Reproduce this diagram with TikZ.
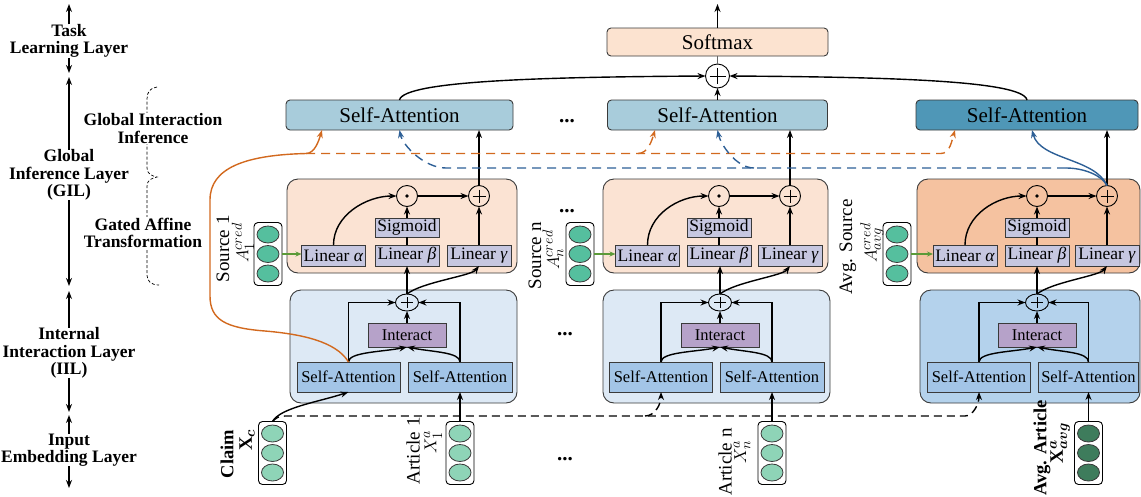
\documentclass[tikz,border=0pt]{standalone}
\usepackage{fontspec}
\setmainfont{Liberation Serif}
\usepackage{amsmath,bm}
\usetikzlibrary{arrows.meta,shapes.geometric,calc}

\definecolor{saTop}{HTML}{A8CCDB}
\definecolor{saTopDark}{HTML}{4F97B7}
\definecolor{softC}{HTML}{FCE3D0}
\definecolor{gatLight}{HTML}{FBE3D3}
\definecolor{gatDark}{HTML}{F5C2A0}
\definecolor{linC}{HTML}{C6C7E0}
\definecolor{iilLight}{HTML}{DDE9F5}
\definecolor{iilDark}{HTML}{B4D2EC}
\definecolor{saIn}{HTML}{A3C5E7}
\definecolor{interC}{HTML}{B6A2C9}
\definecolor{vecSrc}{HTML}{55BF9E}
\definecolor{vecIn}{HTML}{8ED4B7}
\definecolor{vecAvg}{HTML}{3E7C5C}
\definecolor{oraC}{HTML}{D2691E}
\definecolor{bluC}{HTML}{2D5F96}
\definecolor{grnC}{HTML}{5B9A38}
\definecolor{edgeC}{HTML}{3A3A3A}

\begin{document}
\begin{tikzpicture}[x=1pt,y=-1pt,
  every node/.style={inner sep=0pt,outer sep=0pt},
  tip/.style={-{Stealth[length=8pt,width=6pt]}},
  arr/.style={tip,line width=1.4pt},
  layerlbl/.style={font=\fontsize{17.5}{17.5}\selectfont\bfseries,align=center},
  sidelbl/.style={layerlbl,fill=white,inner sep=1pt},
  boxedge/.style={draw=edgeC,line width=0.9pt},
  topsa/.style={boxedge,rounded corners=4pt,minimum height=30,font=\fontsize{21}{21}\selectfont},
  panel/.style={boxedge,rounded corners=11pt},
  lin/.style={boxedge,fill=linC,minimum width=64,minimum height=21,font=\fontsize{17.5}{17.5}\selectfont},
  opc/.style={circle,draw=black,line width=0.9pt,minimum size=21},
  insa/.style={boxedge,fill=saIn,minimum height=30,font=\fontsize{16.5}{16.5}\selectfont},
  vecbox/.style={draw=black,line width=0.9pt,rounded corners=4pt,fill=white,minimum width=28,minimum height=63},
  vcell/.style={ellipse,draw=edgeC,line width=0.8pt,minimum width=22,minimum height=17},
  vlbl/.style={rotate=90,font=\fontsize{19}{19}\selectfont},
  vlblb/.style={rotate=90,font=\fontsize{18.5}{18.5}\selectfont\bfseries},
  ellip/.style={anchor=base,font=\fontsize{21}{21}\selectfont\bfseries},
  bracedash/.style={dash pattern=on 3pt off 2pt,line width=0.7pt},
  blackdash/.style={dash pattern=on 8pt off 5pt},
  coldash/.style={dash pattern=on 9pt off 6pt},
]
\useasboundingbox (0,0) rectangle (1141,496);

% ---------- layer labels on the left ----------
\node[layerlbl] (tll) at (69,41) {Task\\Learning Layer};
\coordinate (tllTop) at (69,4);
\coordinate (tllBot) at (69,73);
\draw[arr] (tll.north) -- (tllTop);
\draw[arr] (tll.south) -- (tllBot);

\node[layerlbl] (gil) at (69,175) {Global\\Inference Layer\\(GIL)};
\coordinate (gilTop) at (69,77);
\coordinate (gilBot) at (69,286);
\draw[arr] (gil.north) -- (gilTop);
\draw[arr] (gil.south) -- (gilBot);

\node[layerlbl] (iil) at (69,353) {Internal\\Interaction Layer\\(IIL)};
\coordinate (iilTop) at (69,291);
\coordinate (iilBot) at (69,412);
\draw[arr] (iil.north) -- (iilTop);
\draw[arr] (iil.south) -- (iilBot);

\node[layerlbl] (iel) at (69,450) {Input\\Embedding Layer};
\coordinate (ielTop) at (69,415);
\coordinate (ielBot) at (69,488);
\draw[arr] (iel.north) -- (ielTop);
\draw[arr] (iel.south) -- (ielBot);

% dashed brace grouping the two GIL sub-steps
\draw[bracedash] (157,87) .. controls (150,88) and (147,92) .. (147,99) -- (147,168)
  .. controls (147,174) and (152,176) .. (157,177)
  .. controls (152,178) and (147,180) .. (147,186) -- (147,275)
  .. controls (147,281) and (151,285) .. (159,285);
\node[sidelbl] (gii) at (153,128.5) {Global Interaction\\Inference};
\node[sidelbl] (gatl) at (143,233) {Gated Affine\\Transformation};

% ---------- task layer ----------
\node[topsa,fill=softC,minimum width=221,minimum height=28] (sm) at (717.5,42) {Softmax};
\coordinate (out) at (717.5,4);
\draw[arr] (sm.north) -- (out);
\node[opc,minimum size=24] (tp) at (717.5,76) {};
\draw[line width=0.9pt] (tp.center) +(-8,0) -- +(8,0) (tp.center) +(0,-8) -- +(0,8);
\draw[black!60,line width=0.8pt] (tp.north) -- (sm.south);

% ---------- global self-attention ----------
\node[topsa,fill=saTop,minimum width=227] (sa1) at (399.5,115) {Self-Attention};
\node[topsa,fill=saTop,minimum width=220] (sa2) at (717.5,115) {Self-Attention};
\node[topsa,fill=saTopDark,minimum width=222] (sa3) at (1027,115) {Self-Attention};

\draw[arr] (sa2.north) -- (tp.south);
\draw[arr] (sa1.north) .. controls +(4,-20) and +(-150,1) .. (tp.west);
\draw[arr] (sa3.north) .. controls +(-4,-20) and +(150,1) .. (tp.east);

% ---------- gated affine transformation ----------
\foreach \c/\L/\R/\ax/\bx/\gx/\fc in {1/287/517/333.5/407/479/gatLight,
                                      2/603/828/647.5/719/790/gatLight,
                                      3/917/1140/965/1037/1107/gatDark}{
  \node[panel,fill=\fc,minimum width={\R-\L},minimum height=94] (gat\c) at ({(\L+\R)/2},226) {};
  \node[lin] (al\c) at (\ax,255.5) {Linear \textit{α}};
  \node[lin] (be\c) at (\bx,255.5) {Linear \textit{β}};
  \node[lin,minimum height=19] (sg\c) at (\bx,227.5) {Sigmoid};
  \node[lin] (ga\c) at (\gx,255.5) {Linear \textit{γ}};
  \node[opc] (dt\c) at (\bx,196) {};
  \fill (dt\c.center) circle (1.8);
  \node[opc] (pl\c) at (\gx,196) {};
  \draw[line width=0.9pt] (pl\c.center) +(-6.5,0) -- +(6.5,0) (pl\c.center) +(0,-6.5) -- +(0,6.5);
  \draw[line width=1.2pt] (be\c.north) -- (sg\c.south);
  \draw[arr] (sg\c.north) -- (dt\c.south);
  \draw[arr] (al\c.north) .. controls +(0,-30) and +(-30,0) .. (dt\c.west);
  \draw[arr] (dt\c.east) -- (pl\c.west);
  \draw[arr] (ga\c.north) -- (pl\c.south);
  \draw[arr] (pl\c.north) -- (pl\c.north |- sa\c.south);
}

% source credibility vectors
\foreach \c/\x/\fc in {1/268/vecSrc,2/580/vecSrc,3/897/vecSrc}{
  \node[vecbox] (sv\c) at (\x,254) {};
  \foreach \k/\dy in {a/-19.5,b/0,c/19.5}
    \node[vcell,fill=\fc] (sv\c\k) at (\x,254+\dy) {};
  \draw[grnC,line width=1.1pt,-{Stealth[length=6pt,width=5pt]}] (sv\c.east) -- (sv\c.east -| al\c.west);
}
\node[vlbl] (srcname1) at (223,249) {Source 1};
\node[vlbl] (srcsym1) at (243,243) {$A_1^{cred}$};
\node[vlbl] (srcname2) at (535,256) {Source n};
\node[vlbl] (srcsym2) at (553,250) {$A_n^{cred}$};
\node[vlbl] (srcname3) at (848,247) {Avg. Source};
\node[vlbl] (srcsym3) at (872,243) {$A_{avg}^{cred}$};

% ---------- internal interaction ----------
\foreach \c/\L/\R/\px/\lx/\rx/\rw/\fc in {1/290/517/407/348.5/460/104/iilLight,
                                          2/603/830/720/661/772/104/iilLight,
                                          3/920/1140/1037/979/1088.5/100/iilDark}{
  \node[panel,fill=\fc,minimum width={\R-\L},minimum height=113] (iil\c) at ({(\L+\R)/2},346.5) {};
  \node[opc,ellipse,minimum width=23,minimum height=17] (ip\c) at (\px,302.5) {};
  \draw[line width=0.9pt] (ip\c.center) +(-6,0) -- +(6,0) (ip\c.center) +(0,-5.5) -- +(0,5.5);
  \node[insa,fill=interC,minimum width=78,minimum height=24] (in\c) at (\px,335) {Interact};
  \node[insa,minimum width=103] (sl\c) at (\lx,377) {Self-Attention};
  \node[insa,minimum width=\rw] (sr\c) at (\rx,377) {Self-Attention};
  \draw[arr] (sl\c.north) |- (ip\c.west);
  \draw[arr] (sr\c.north) |- (ip\c.east);
  \draw[arr] (sl\c.north) .. controls +(0,-10) and +(-25,5) .. (in\c.south);
  \draw[arr] (sr\c.north) .. controls +(0,-10) and +(25,5) .. (in\c.south);
  \draw[arr] (in\c.north) -- (ip\c.south);
  \draw[arr] (ip\c.north) -- (ip\c.north |- be\c.south);
  \draw[arr] (ip\c.north) .. controls +(15,-12) and +(-8,10) .. (ga\c.south);
}

% ---------- input embeddings ----------
\foreach \n/\x/\fc in {cv/272.5/vecIn, av1/460/vecIn, av2/772/vecIn, av3/1088.5/vecAvg}{
  \node[vecbox] (\n) at (\x,453) {};
  \foreach \k/\dy in {a/-19.5,b/0,c/19.5}
    \node[vcell,fill=\fc] (\n\k) at (\x,453+\dy) {};
}
\node[vlblb] (clbl) at (227,454) {Claim};
\node[vlbl] (csym) at (247,440) {$\mathbf{X}_{\bm{c}}$};
\node[vlbl] (a1lbl) at (413,451) {Article 1};
\node[vlbl] (a1sym) at (433,442) {$X_1^a$};
\node[vlbl] (anlbl) at (725,462) {Article n};
\node[vlbl] (ansym) at (742,452) {$X_n^a$};
\node[vlblb] (avlbl) at (1042,448) {Avg. Article};
\node[vlbl] (avsym) at (1060,443) {$\mathbf{X}^{\bm{a}}_{\bm{avg}}$};

\draw[arr] (cv.north) .. controls +(8,-14) and +(-30,10) .. (sl1.south);
\draw[arr] (av1.north) -- (sr1.south);
\draw[arr] (av2.north) -- (sr2.south);
\draw[arr] (av3.north) -- (sr3.south);

% claim shared with every article branch
\coordinate (dA) at (285,416);
\coordinate (dB) at (645,416);
\coordinate (dC) at (965,416);
\draw[arr,blackdash] (cv.north) .. controls +(4,-4) and +(-6,0) .. (dA) -- (dC)
  .. controls +(8,0) and +(0,12) .. (sl3.south);
\draw[arr,blackdash] (dB) .. controls +(10,0) and +(0,12) .. (sl2.south);

% ---------- claim representation to every global attention ----------
\coordinate (oJ) at (306,153.5);
\coordinate (oK) at (638,153.5);
\coordinate (oL) at (941,153.5);
\draw[oraC,arr] (sl1.north) .. controls (336,341) and (300,334) .. (265,331)
  .. controls (226,328) and (210,320) .. (210,296) -- (210,200)
  .. controls (210,168) and (245,155) .. (oJ)
  .. controls +(9,0) and +(-3,10) .. ([xshift=-77.5pt]sa1.south);
\draw[oraC,arr,coldash] (oJ) -- (oL) .. controls +(9,0) and +(-3,10) .. ([xshift=-72pt]sa3.south);
\draw[oraC,arr,coldash] (oK) .. controls +(10,0) and +(-3,10) .. ([xshift=-62.5pt]sa2.south);

% ---------- averaged source evidence to every global attention ----------
\coordinate (bJ) at (1066,168);
\coordinate (bK) at (754,168);
\coordinate (bL) at (446,168);
\draw[bluC,arr] (pl3.north) .. controls (1095,158) and (1040,160) .. ([xshift=5pt]sa3.south);
\draw[bluC,line width=1.4pt] (pl3.north) .. controls +(-5,-10) and +(18,0) .. (bJ);
\draw[bluC,arr,coldash] (bJ) -- (bL) .. controls +(-22,0) and +(3,15) .. (sa1.south);
\draw[bluC,arr,coldash] (bK) .. controls +(-18,0) and +(3,14) .. (sa2.south);

% ---------- ellipses between branches ----------
\node[ellip] (e1) at (567,122) {...};
\node[ellip] (e2) at (567,212) {...};
\node[ellip] (e3) at (565,335) {...};
\node[ellip] (e4) at (565,460) {...};
\end{tikzpicture}
\end{document}
